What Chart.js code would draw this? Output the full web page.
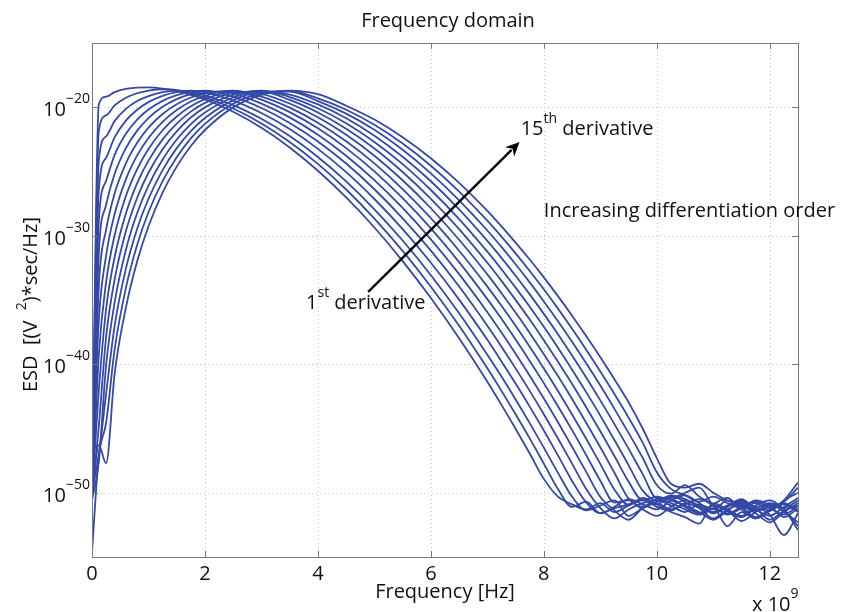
<!DOCTYPE html>
<html><head><meta charset="utf-8">
<script src="https://cdn.jsdelivr.net/npm/chart.js@4.4.1/dist/chart.umd.min.js"></script>
<style>html,body{margin:0;padding:0;background:#fff}canvas{display:block}</style>
</head><body>
<canvas id="c" width="842" height="612"></canvas>
<script>
// Frequency axis (GHz; axis multiplier x 10^9)
const freqGHz = [0,0.12,0.25,0.4,0.6,0.8,1,1.25,1.5,1.75,2,2.5,3,3.5,4,4.5,5,5.5,6,6.5,7,7.25,7.5,7.75,8,8.25,8.5,8.75,9,9.25,9.5,9.75,10,10.25,10.5,10.75,11,11.25,11.5,11.75,12,12.25,12.5];

// log10 of ESD [(V^2)*sec/Hz] for the 1st ... 15th derivative
const esd1  = [-50.0,-19.79,-19.18,-18.82,-18.57,-18.47,-18.46,-18.55,-18.75,-19.03,-19.39,-20.35,-21.60,-23.13,-24.94,-27.02,-29.36,-31.97,-34.84,-37.97,-41.36,-43.16,-45.02,-46.95,-48.92,-50.30,-50.9,-51.3,-50.8,-51.5,-51.0,-50.6,-50.9,-50.3,-50.7,-51.6,-50.9,-50.4,-51.2,-50.8,-51.4,-50.6,-50.0];
const esd2  = [-49.8,-21.88,-20.63,-19.86,-19.26,-18.91,-18.70,-18.60,-18.66,-18.94,-19.24,-20.10,-21.26,-22.70,-24.41,-26.40,-28.66,-31.18,-33.97,-37.01,-40.32,-42.07,-43.89,-45.77,-47.73,-49.71,-51.10,-50.7,-51.6,-51.1,-50.5,-50.9,-51.3,-50.6,-50.2,-50.8,-51.5,-51.0,-50.5,-51.3,-51.8,-51.1,-50.4];
const esd3  = [-50.2,-24.15,-22.26,-21.08,-20.13,-19.52,-19.13,-18.83,-18.71,-18.78,-19.08,-19.83,-20.90,-22.24,-23.87,-25.77,-27.94,-30.37,-33.07,-36.03,-39.26,-40.96,-42.74,-44.58,-46.49,-48.45,-50.31,-51.37,-51.0,-50.6,-51.8,-51.2,-50.8,-51.3,-50.9,-50.5,-51.0,-51.7,-51.2,-50.6,-51.0,-51.9,-51.2];
const esd4  = [-50.4,-26.46,-23.93,-22.35,-21.04,-20.19,-19.60,-19.11,-18.83,-18.71,-18.84,-19.48,-20.45,-21.70,-23.24,-25.05,-27.14,-29.48,-32.10,-34.97,-38.10,-39.78,-41.50,-43.30,-45.16,-47.09,-49.08,-50.76,-51.59,-51.2,-50.9,-50.5,-51.1,-51.4,-50.8,-51.2,-52.0,-51.3,-50.9,-51.4,-50.9,-51.5,-52.3];
const esd5  = [-49.9,-28.88,-25.72,-23.72,-22.07,-20.96,-20.18,-19.50,-19.06,-18.80,-18.70,-19.20,-20.06,-21.22,-22.66,-24.38,-26.38,-28.64,-31.16,-33.95,-37.00,-38.63,-40.32,-42.07,-43.89,-45.78,-47.73,-49.70,-51.18,-52.0,-51.3,-50.8,-50.6,-51.0,-51.5,-50.9,-51.3,-50.6,-51.1,-51.9,-51.3,-50.8,-51.4];
const esd6  = [-50.1,-31.39,-27.59,-25.19,-23.18,-21.82,-20.84,-19.97,-19.37,-18.98,-18.77,-18.96,-19.72,-20.79,-22.14,-23.77,-25.67,-27.84,-30.28,-32.99,-35.95,-37.53,-39.18,-40.89,-42.67,-44.51,-46.42,-48.38,-50.33,-51.37,-52.1,-51.2,-50.7,-50.5,-51.1,-51.6,-51.0,-51.4,-52.2,-51.5,-50.9,-51.2,-50.6];
const esd7  = [-50.3,-33.97,-29.53,-26.72,-24.36,-22.76,-21.58,-20.52,-19.76,-19.24,-18.91,-18.72,-19.41,-20.38,-21.64,-23.18,-24.99,-27.08,-29.43,-32.05,-34.93,-36.46,-38.07,-39.74,-41.47,-43.27,-45.13,-47.07,-49.06,-50.76,-50.6,-51.3,-51.8,-51.1,-50.6,-51.0,-51.6,-51.1,-50.7,-51.2,-52.1,-51.4,-51.0];
const esd8  = [-49.7,-36.61,-31.54,-28.32,-25.61,-23.75,-22.39,-21.13,-20.21,-19.55,-19.11,-18.71,-19.17,-20.03,-21.20,-22.65,-24.37,-26.37,-28.63,-31.17,-33.96,-35.45,-37.01,-38.64,-40.33,-42.08,-43.91,-45.80,-47.75,-49.76,-50.94,-50.4,-50.9,-51.5,-51.9,-52.4,-50.8,-51.3,-51.8,-51.0,-50.6,-51.3,-52.6];
const esd9  = [-50.5,-39.31,-33.60,-29.98,-26.91,-24.81,-23.25,-21.79,-20.72,-19.93,-19.37,-18.78,-18.95,-19.71,-20.78,-22.14,-23.77,-25.68,-27.86,-30.31,-33.01,-34.47,-35.98,-37.56,-39.22,-40.92,-42.70,-44.55,-46.46,-48.44,-50.44,-51.09,-50.5,-50.8,-51.3,-51.7,-51.2,-52.6,-51.5,-52.0,-51.4,-50.9,-51.5];
const esd10 = [-50.0,-42.06,-35.70,-31.67,-28.26,-25.90,-24.15,-22.50,-21.27,-20.34,-19.66,-18.88,-18.78,-19.43,-20.41,-21.67,-23.21,-25.04,-27.13,-29.48,-32.10,-33.51,-34.99,-36.52,-38.13,-39.81,-41.53,-43.34,-45.21,-47.14,-49.13,-50.58,-50.3,-50.6,-51.0,-51.5,-52.1,-51.4,-50.8,-51.1,-51.7,-53.3,-51.6];
const esd11 = [-50.2,-44.85,-37.86,-33.42,-29.65,-27.04,-25.10,-23.26,-21.87,-20.80,-20.01,-19.04,-18.70,-19.21,-20.08,-21.25,-22.70,-24.43,-26.44,-28.70,-31.24,-32.61,-34.04,-35.53,-37.09,-38.72,-40.42,-42.17,-44.00,-45.89,-47.85,-49.83,-50.58,-50.2,-50.5,-51.1,-51.5,-51.0,-50.6,-51.4,-51.1,-50.7,-49.6];
const esd12 = [-50.6,-47.6,-40.06,-35.21,-31.09,-28.23,-26.09,-24.06,-22.51,-21.31,-20.41,-19.24,-18.74,-19.01,-19.78,-20.85,-22.21,-23.85,-25.76,-27.95,-30.40,-31.72,-33.11,-34.56,-36.08,-37.66,-39.32,-41.03,-42.81,-44.66,-46.57,-48.55,-50.41,-50.39,-50.0,-49.6,-51.0,-51.6,-51.1,-50.7,-51.2,-51.7,-51.0];
const esd13 = [-49.9,-47.0,-42.29,-37.03,-32.56,-29.45,-27.12,-24.89,-23.18,-21.85,-20.83,-19.46,-18.81,-18.78,-19.52,-20.50,-21.76,-23.31,-25.14,-27.24,-29.59,-30.87,-32.22,-33.63,-35.11,-36.65,-38.25,-39.93,-41.66,-43.47,-45.34,-47.28,-49.40,-50.07,-49.4,-50.3,-50.9,-51.4,-51.9,-51.2,-50.8,-51.3,-52.9];
const esd14 = [-54.6,-47.2,-44.55,-38.88,-34.06,-30.70,-28.17,-25.75,-23.89,-22.42,-21.29,-19.73,-18.91,-18.72,-19.31,-20.19,-21.36,-22.82,-24.55,-26.56,-28.83,-30.07,-31.37,-32.74,-34.17,-35.67,-37.24,-38.87,-40.56,-42.32,-44.15,-46.1,-48.4,-49.7,-50.19,-50.7,-50.3,-50.8,-51.3,-52.0,-51.4,-50.6,-49.2];
const esd15 = [-50.3,-46.3,-47.7,-40.76,-35.59,-31.98,-29.26,-26.64,-24.62,-23.02,-21.77,-20.01,-19.04,-18.70,-18.98,-19.88,-20.96,-22.33,-23.97,-25.89,-28.07,-29.27,-30.53,-31.85,-33.24,-34.70,-36.22,-37.81,-39.46,-41.17,-42.96,-45.0,-47.3,-49.3,-49.6,-49.3,-50.0,-50.6,-51.0,-51.6,-52.3,-51.5,-50.8];

const esdSeries = [esd1,esd2,esd3,esd4,esd5,esd6,esd7,esd8,esd9,esd10,esd11,esd12,esd13,esd14,esd15];

// axis ticks
const xTickValues = [0,2,4,6,8,10,12];
const xTickLabels = ['0','2','4','6','8','10','12'];
const yTickExponents = [-20,-30,-40,-50];
const yTickLabels = ['\u221220','\u221230','\u221240','\u221250'];

// texts
const titleText = 'Frequency domain';
const xLabelText = 'Frequency [Hz]';

const LINE = 'rgb(52,72,168)';
const FONT = '"Open Sans", "DejaVu Sans", sans-serif';

function richText(ctx, parts, x, y, align, baseSize, supSize, rise) {
  const ws = parts.map(([t, s]) => { ctx.font = (s ? supSize : baseSize) + 'px ' + FONT; return ctx.measureText(t).width; });
  const total = ws.reduce((a, b) => a + b, 0);
  let cx = align === 'right' ? x - total : align === 'center' ? x - total / 2 : x;
  parts.forEach(([t, s], i) => {
    ctx.font = (s ? supSize : baseSize) + 'px ' + FONT;
    ctx.fillText(t, cx, s ? y - rise : y);
    cx += ws[i];
  });
}

const inkPlugin = {
  id: 'ink',
  beforeDatasetsDraw(chart) {
    const {ctx, chartArea: a, scales: {x, y}} = chart;
    ctx.save();
    ctx.strokeStyle = '#c4c4c4';
    ctx.lineWidth = 1;
    ctx.setLineDash([1, 3]);
    xTickValues.forEach(v => {
      if (v === 0) return;
      const px = Math.round(x.getPixelForValue(v)) + 0.5;
      ctx.beginPath(); ctx.moveTo(px, a.top); ctx.lineTo(px, a.bottom); ctx.stroke();
    });
    yTickExponents.forEach(e => {
      const py = Math.round(y.getPixelForValue(Math.pow(10, e))) + 0.5;
      ctx.beginPath(); ctx.moveTo(a.left, py); ctx.lineTo(a.right, py); ctx.stroke();
    });
    ctx.restore();
  },
  afterDraw(chart) {
    const {ctx, chartArea: a, scales: {x, y}} = chart;
    ctx.save();
    // box
    ctx.strokeStyle = '#7a7a7a';
    ctx.lineWidth = 1;
    ctx.strokeRect(Math.round(a.left) + 0.5, Math.round(a.top) + 0.5, Math.round(a.right - a.left), Math.round(a.bottom - a.top));
    // inward ticks
    const TL = 6;
    xTickValues.forEach(v => {
      const px = Math.round(x.getPixelForValue(v)) + 0.5;
      ctx.beginPath();
      ctx.moveTo(px, a.bottom); ctx.lineTo(px, a.bottom - TL);
      ctx.moveTo(px, a.top); ctx.lineTo(px, a.top + TL);
      ctx.stroke();
    });
    yTickExponents.forEach(e => {
      const py = Math.round(y.getPixelForValue(Math.pow(10, e))) + 0.5;
      ctx.beginPath();
      ctx.moveTo(a.left, py); ctx.lineTo(a.left + TL, py);
      ctx.moveTo(a.right, py); ctx.lineTo(a.right - TL, py);
      ctx.stroke();
    });

    ctx.fillStyle = '#111';
    ctx.textBaseline = 'alphabetic';
    // x tick labels
    ctx.font = '20px ' + FONT;
    ctx.textAlign = 'left';
    xTickValues.forEach((v, i) => {
      const px = x.getPixelForValue(v);
      const w = ctx.measureText(xTickLabels[i]).width;
      ctx.fillText(xTickLabels[i], px - w / 2, a.bottom + 23);
    });
    // multiplier
    richText(ctx, [['x 10', false], ['9', true]], a.right - 46, a.bottom + 54, 'left', 20, 14, 13);
    // y tick labels
    yTickExponents.forEach((e, i) => {
      const py = y.getPixelForValue(Math.pow(10, e));
      richText(ctx, [['10', false], [yTickLabels[i], true]], a.left - 2, py + 9, 'right', 20, 14, 13);
    });
    // title
    ctx.font = '20px ' + FONT;
    const tw = ctx.measureText(titleText).width;
    ctx.fillText(titleText, (a.left + a.right) / 2 + 3 - tw / 2, 27);
    // x label
    const xw = ctx.measureText(xLabelText).width;
    ctx.fillText(xLabelText, (a.left + a.right) / 2 - xw / 2, a.bottom + 41);
    // y label (rotated)
    ctx.save();
    ctx.translate(37, 392);
    ctx.rotate(-Math.PI / 2);
    richText(ctx, [['ESD  [(V  ', false], ['2', true], [')*sec/Hz]', false]], 0, 0, 'left', 20, 14, 11);
    ctx.restore();

    // annotations (data coordinates)
    const P = (f, e) => [x.getPixelForValue(f), y.getPixelForValue(Math.pow(10, e))];
    const [t1x, t1y] = P(3.79, -35.68);
    richText(ctx, [['1', false], ['st', true], [' derivative', false]], t1x, t1y, 'left', 20, 14, 12);
    const [t2x, t2y] = P(7.59, -22.16);
    richText(ctx, [['15', false], ['th', true], [' derivative', false]], t2x, t2y, 'left', 20, 14, 12);
    const [t3x, t3y] = P(8.0, -28.57);
    richText(ctx, [['Increasing differentiation order', false]], t3x, t3y, 'left', 20, 14, 12);

    // arrow
    const [ax0, ay0] = P(4.89, -34.36);
    const [ax1, ay1] = P(7.57, -22.70);
    const ang = Math.atan2(ay1 - ay0, ax1 - ax0);
    const HL = 14, HW = 6.5;
    ctx.strokeStyle = '#000';
    ctx.fillStyle = '#000';
    ctx.lineWidth = 2.4;
    ctx.beginPath();
    ctx.moveTo(ax0, ay0);
    ctx.lineTo(ax1 - HL * 0.8 * Math.cos(ang), ay1 - HL * 0.8 * Math.sin(ang));
    ctx.stroke();
    ctx.beginPath();
    ctx.moveTo(ax1, ay1);
    ctx.lineTo(ax1 - HL * Math.cos(ang) + HW * Math.sin(ang), ay1 - HL * Math.sin(ang) - HW * Math.cos(ang));
    ctx.lineTo(ax1 - HL * 0.7 * Math.cos(ang), ay1 - HL * 0.7 * Math.sin(ang));
    ctx.lineTo(ax1 - HL * Math.cos(ang) - HW * Math.sin(ang), ay1 - HL * Math.sin(ang) + HW * Math.cos(ang));
    ctx.closePath();
    ctx.fill();
    ctx.restore();
  }
};

new Chart(document.getElementById('c').getContext('2d'), {
  type: 'line',
  data: {
    datasets: esdSeries.map((s, k) => ({
      label: 'derivative ' + (k + 1),
      data: freqGHz.map((f, i) => ({x: f, y: Math.pow(10, s[i])})),
      borderColor: LINE,
      borderWidth: 1.8,
      pointRadius: 0,
      fill: false,
      cubicInterpolationMode: 'monotone'
    }))
  },
  options: {
    responsive: false,
    animation: false,
    devicePixelRatio: 1,
    layout: {padding: {left: 92, right: 44, top: 43, bottom: 55}},
    plugins: {legend: {display: false}, tooltip: {enabled: false}, title: {display: false}},
    scales: {
      x: {type: 'linear', min: 0, max: 12.5, display: false},
      y: {type: 'logarithmic', min: 1e-55, max: 1e-15, display: false}
    }
  },
  plugins: [inkPlugin]
});
</script>
</body></html>
